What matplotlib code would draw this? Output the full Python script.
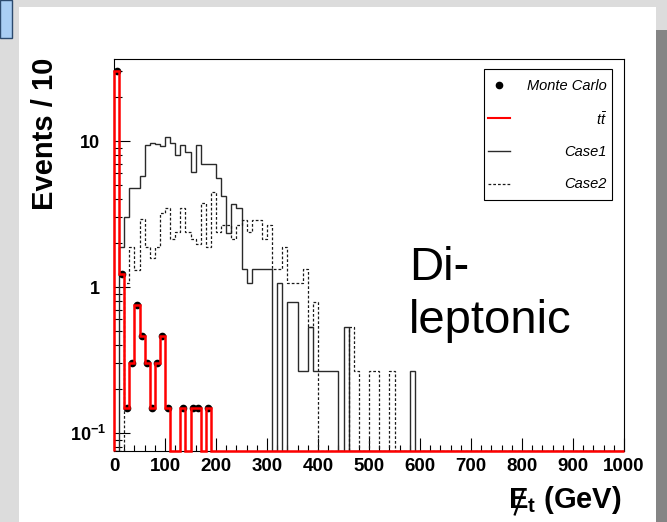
import matplotlib
matplotlib.use("Agg")
import matplotlib.pyplot as plt
import matplotlib.transforms as mtrans
from matplotlib.patches import Rectangle
from matplotlib.lines import Line2D
from matplotlib.ticker import FixedLocator, LogLocator, NullFormatter
import numpy as np

plt.rcParams['font.family'] = ['Liberation Sans', 'DejaVu Sans']
plt.rcParams['mathtext.fontset'] = 'custom'
plt.rcParams['mathtext.rm'] = 'Liberation Sans'
plt.rcParams['mathtext.it'] = 'Liberation Sans:italic'
plt.rcParams['mathtext.bf'] = 'Liberation Sans:bold'

# 10 GeV bins from 0 to 1000 (empty bins left out at the end)
bin_width = 10
n_bins = 100

ttbar = [30.0, 1.22, 0.148, 0.30, 0.75, 0.46, 0.30, 0.148, 0.30, 0.46,
         0.148, 0, 0, 0.148, 0, 0.148, 0.148, 0, 0.148]
monte_carlo = [30.0, 1.22, 0.148, 0.30, 0.75, 0.46, 0.30, 0.148, 0.30, 0.46,
               0.148, 0, 0, 0.148, 0, 0.148, 0.148, 0, 0.148]
case1 = [0, 1.87, 3.0, 4.74, 4.74, 5.78, 9.4, 9.7, 9.5, 9.2,
         10.6, 9.65, 8.0, 9.4, 8.4, 6.1, 9.4, 6.96, 6.96, 6.96,
         5.55, 4.23, 2.36, 3.7, 3.46, 1.32, 1.06, 1.32, 1.32, 1.32,
         1.32, 0, 1.06, 0, 0.79, 0.79, 0.265, 0.265, 0.53, 0.265,
         0.265, 0.265, 0.265, 0.265, 0, 0.53, 0, 0, 0, 0,
         0, 0, 0, 0, 0, 0, 0, 0, 0.265]
case2 = [0, 0, 1.06, 1.87, 1.31, 2.91, 1.87, 1.57, 1.87, 3.2,
         3.46, 2.15, 2.39, 3.46, 2.39, 2.15, 1.97, 3.74, 1.87, 4.5,
         2.39, 2.66, 2.66, 2.12, 2.66, 2.9, 2.39, 2.9, 2.9, 2.12,
         2.66, 1.32, 1.32, 1.87, 1.06, 1.06, 1.06, 1.32, 0.53, 0.79,
         0, 0, 0, 0, 0, 0, 0.53, 0.265, 0, 0,
         0.265, 0.265, 0, 0, 0.265]

x_ticks = [0, 100, 200, 300, 400, 500, 600, 700, 800, 900, 1000]
y_ticks = [0.1, 1, 10]
y_tick_labels = [r'$\mathbf{10^{-1}}$', '1', '10']
legend_labels = ['Monte Carlo', r'$t\bar{t}$', 'Case1', 'Case2']

W, H = 667, 522
ymin, ymax = 0.0753, 36.5


def full(vals):
    v = np.zeros(n_bins)
    v[:len(vals)] = vals
    return v


def fx(x):
    return x / W


def fy(y):
    return 1 - y / H


edges = np.arange(n_bins + 1) * bin_width
centers = edges[:-1] + bin_width / 2

fig = plt.figure(figsize=(W / 100, H / 100), dpi=100, facecolor='#dcdcdc')

# canvas decorations around the ROOT pad
fig.patches.append(Rectangle((fx(19), 0), fx(656) - fx(19), fy(7), transform=fig.transFigure,
                             facecolor='white', edgecolor='none', zorder=-10))
fig.patches.append(Rectangle((fx(656), 0), fx(11), fy(30), transform=fig.transFigure,
                             facecolor='#858585', edgecolor='none', zorder=-10))
fig.patches.append(Rectangle((0, fy(38)), fx(12), 38 / H, transform=fig.transFigure,
                             facecolor='#a9cef4', edgecolor='#2c4a6e', lw=1, zorder=-10))

ax = fig.add_axes([fx(114), fy(451), fx(510), 392 / H])
ax.set_yscale('log')
ax.set_xlim(0, 1000)
ax.set_ylim(ymin, ymax)

c1 = full(case1)
c2 = full(case2)
tt = full(ttbar)
mc = full(monte_carlo)

ax.stairs(np.where(c1 > 0, c1, ymin), edges, baseline=ymin, color='#2a2a2a', lw=1.0, zorder=2)
ax.stairs(np.where(c2 > 0, c2, ymin), edges, baseline=ymin, color='#1a1a1a', lw=0.9,
          linestyle=(0, (2.2, 1.6)), zorder=2)
m = mc > 0
ax.plot(centers[m], mc[m], 'o', color='black', ms=4.5, zorder=3, clip_on=False)
ax.stairs(np.where(tt > 0, tt, ymin), edges, baseline=ymin, color='#ff0000', lw=1.8,
          zorder=4, clip_on=False)

for s in ax.spines.values():
    s.set_linewidth(0.8)
    s.set_zorder(1)

ax.xaxis.set_major_locator(FixedLocator(x_ticks))
ax.xaxis.set_minor_locator(FixedLocator(np.arange(0, 1001, 20)))
ax.set_xticklabels([str(t) for t in x_ticks])
ax.yaxis.set_major_locator(FixedLocator(y_ticks))
ax.yaxis.set_minor_locator(LogLocator(base=10, subs=np.arange(2, 10)))
ax.yaxis.set_minor_formatter(NullFormatter())
ax.set_yticklabels(y_tick_labels)

ax.tick_params(which='both', direction='in', top=False, right=False, width=0.8)
ax.tick_params(axis='x', which='major', length=9.5, pad=5, labelsize=13.5)
ax.tick_params(axis='x', which='minor', length=4.5)
ax.tick_params(axis='y', which='major', length=11.5, pad=10, labelsize=13)
ax.tick_params(axis='y', which='minor', length=5.5)
for lab in ax.get_xticklabels() + ax.get_yticklabels():
    lab.set_fontweight('bold')
# the 10^-1 label sits closer to the axis
ylabs = ax.get_yticklabels()
ylabs[0].set_transform(ylabs[0].get_transform() +
                       mtrans.ScaledTranslation(6 / 100, 0, fig.dpi_scale_trans))

fig.text(fx(45), fy(134), 'Events / 10', rotation=90, ha='center', va='center',
         fontsize=21, fontweight='bold')

xl = fig.text(fx(622), fy(508), r'$\mathbf{E}_{\mathbf{t}}$ (GeV)', ha='right', va='baseline',
              fontsize=21, fontweight='bold')

fig.text(fx(409), fy(280), 'Di-', fontsize=34, va='baseline', ha='left')
fig.text(fx(409), fy(333), 'leptonic', fontsize=34, va='baseline', ha='left')

# legend box
fig.patches.append(Rectangle((fx(484), fy(200)), fx(128), 131 / H, transform=fig.transFigure,
                             facecolor='white', edgecolor='black', lw=0.8, zorder=5))
fig.lines.append(Line2D([fx(499)], [fy(85)], marker='o', color='black', ms=4.5,
                        transform=fig.transFigure, zorder=6))
fig.lines.append(Line2D([fx(488), fx(510)], [fy(118), fy(118)], color='#ff0000', lw=1.5,
                        transform=fig.transFigure, zorder=6))
fig.lines.append(Line2D([fx(488), fx(510)], [fy(151), fy(151)], color='#2a2a2a', lw=1.0,
                        transform=fig.transFigure, zorder=6))
fig.lines.append(Line2D([fx(488), fx(510)], [fy(184), fy(184)], color='#1a1a1a', lw=0.9,
                        linestyle=(0, (2.2, 1.6)), transform=fig.transFigure, zorder=6))
for lab, y in zip(legend_labels, [86, 120, 152, 184]):
    fig.text(fx(607), fy(y), lab, ha='right', va='center', fontsize=10.5, style='italic',
             zorder=7)

# slash through the E of the x label
fig.canvas.draw()
bb = xl.get_window_extent()
em = 21 * 100 / 72
x0 = bb.x0
yb = 522 - 508
fig.lines.append(Line2D([(x0 + 0.22 * em) / W, (x0 + 0.52 * em) / W],
                        [(yb - 0.22 * em) / H, (yb + 0.62 * em) / H],
                        color='black', lw=1.6, transform=fig.transFigure, zorder=7))

fig.savefig('out.png', dpi=100, facecolor=fig.get_facecolor())
